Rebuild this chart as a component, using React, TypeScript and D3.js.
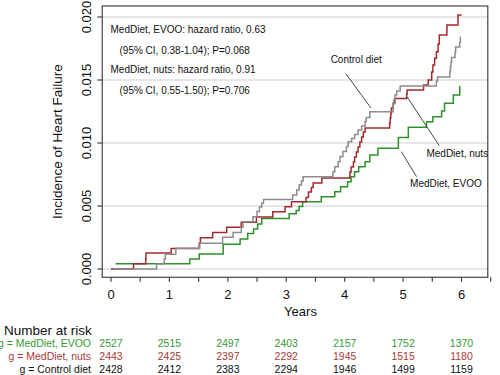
import React from 'react';
import * as d3 from 'd3';

const years = [0, 1, 2, 3, 4, 5, 6];
const minorYears = [0, 0.5, 1, 1.5, 2, 2.5, 3, 3.5, 4, 4.5, 5, 5.5, 6, 6.5];
const yTicks = [0, 0.005, 0.01, 0.015, 0.02];

// Step curves: times (years) and cumulative incidence after each step
const evooT = [0.08, 1.35, 1.51, 1.92, 2.21, 2.34, 2.44, 2.51, 2.58, 3.05, 3.17, 3.22, 3.28, 3.60, 3.83, 3.93, 4.05, 4.11, 4.17, 4.24, 4.35, 4.43, 4.57, 4.92, 5.09, 5.40, 5.51, 5.66, 5.71, 5.86, 5.97];
const evooV = [0.00042, 0.00079, 0.00119, 0.00196, 0.00238, 0.00282, 0.00317, 0.00357, 0.00401, 0.00439, 0.00464, 0.00496, 0.00534, 0.00574, 0.00613, 0.00653, 0.00693, 0.00733, 0.00772, 0.00812, 0.00852, 0.00905, 0.00958, 0.01044, 0.01125, 0.01169, 0.01209, 0.01254, 0.01315, 0.01381, 0.01447];
const evooEnd = 5.98;

const nutsT = [0, 0.385, 0.594, 0.599, 1.03, 1.51, 1.53, 1.74, 1.98, 2.23, 2.49, 2.77, 2.98, 3.09, 3.34, 3.38, 3.43, 3.46, 3.61, 4.09, 4.11, 4.15, 4.17, 4.20, 4.23, 4.26, 4.29, 4.32, 4.35, 4.77, 4.78, 4.79, 4.80, 4.83, 4.86, 5.06, 5.07, 5.35, 5.43, 5.49, 5.51, 5.54, 5.57, 5.60, 5.62, 5.75, 5.94];
const nutsV = [0, 0.00041, 0.00083, 0.00127, 0.00163, 0.00204, 0.00248, 0.0029, 0.00331, 0.00371, 0.00413, 0.00455, 0.00494, 0.00534, 0.00567, 0.00611, 0.00647, 0.00683, 0.00722, 0.0077, 0.0081, 0.00849, 0.00889, 0.00929, 0.00968, 0.01008, 0.01048, 0.01087, 0.01119, 0.01159, 0.01198, 0.01238, 0.01278, 0.01317, 0.01353, 0.01389, 0.01421, 0.0146, 0.015, 0.01563, 0.01619, 0.01672, 0.01725, 0.01786, 0.01857, 0.01937, 0.02016];
const nutsEnd = 6.0;

const controlT = [0.03, 0.78, 0.91, 0.93, 1.11, 1.52, 1.91, 2.09, 2.23, 2.26, 2.43, 2.50, 2.54, 2.58, 2.61, 3.11, 3.18, 3.22, 3.26, 3.29, 3.80, 3.83, 3.89, 3.92, 3.97, 4.03, 4.06, 4.12, 4.17, 4.23, 4.29, 4.35, 4.37, 4.43, 4.83, 4.84, 4.86, 4.89, 4.95, 5.57, 5.59, 5.80, 5.81, 5.82, 5.83, 5.89, 5.90, 5.97, 5.98];
const controlV = [0, 0.0004, 0.00079, 0.00117, 0.00164, 0.00204, 0.00252, 0.0029, 0.00331, 0.00375, 0.00415, 0.00456, 0.00492, 0.00521, 0.00552, 0.00587, 0.00627, 0.00667, 0.00698, 0.00733, 0.00772, 0.00812, 0.00852, 0.00893, 0.00933, 0.00972, 0.0101, 0.01036, 0.01067, 0.01103, 0.01135, 0.01171, 0.01202, 0.01248, 0.01302, 0.01341, 0.01381, 0.01413, 0.01452, 0.01492, 0.01524, 0.01567, 0.01607, 0.01643, 0.01679, 0.01722, 0.01762, 0.01802, 0.01841];
const controlEnd = 5.985;

const riskLabels = ['g = MedDiet, EVOO', 'g = MedDiet, nuts', 'g = Control diet'];
const riskEvoo = [2527, 2515, 2497, 2403, 2157, 1752, 1370];
const riskNuts = [2443, 2425, 2397, 2292, 1945, 1515, 1180];
const riskControl = [2428, 2412, 2383, 2294, 1946, 1499, 1159];

const hrText = [
  'MedDiet, EVOO: hazard ratio, 0.63',
  '(95% CI, 0.38-1.04); P=0.068',
  'MedDiet, nuts: hazard ratio, 0.91',
  '(95% CI, 0.55-1.50); P=0.706',
];

const GREEN = '#2f8f2a';
const RED = '#a3282c';
const GRAY = '#8c8c8c';
const FONT = '"Liberation Sans", Arial, sans-serif';

export default function App() {
  const W = 500, H = 375;
  const x = d3.scaleLinear().domain([0, 6]).range([111, 461.5]);
  const y = d3.scaleLinear().domain([0, 0.02]).range([269, 17]);
  const left = x(-0.15), right = x(6.45), top = 6, bottom = 277.3;

  const line = d3.line<[number, number]>()
    .x(d => x(d[0])).y(d => y(d[1])).curve(d3.curveStepAfter);
  const mk = (t: number[], v: number[], end: number) => {
    const pts: [number, number][] = t.map((ti, i) => [ti, v[i]]);
    pts.push([end, v[v.length - 1]]);
    return line(pts) || '';
  };

  const series = [
    { d: mk(evooT, evooV, evooEnd), c: GREEN },
    { d: mk(nutsT, nutsV, nutsEnd), c: RED },
    { d: mk(controlT, controlV, controlEnd), c: GRAY },
  ];

  const riskRows = [
    { label: riskLabels[0], vals: riskEvoo, c: '#339a33' },
    { label: riskLabels[1], vals: riskNuts, c: '#a83a3a' },
    { label: riskLabels[2], vals: riskControl, c: '#111' },
  ];

  // annotation pointers (data coordinates)
  const pointers = [
    { label: 'Control diet', from: [4.02, 0.01550], to: [4.45, 0.01278], tx: [3.76, 0.01637] },
    { label: 'MedDiet, nuts', from: [5.07, 0.01365], to: [5.62, 0.00979], tx: [5.40, 0.00892] },
    { label: 'MedDiet, EVOO', from: [4.97, 0.00931], to: [5.23, 0.00733], tx: [5.12, 0.00648] },
  ];

  return (
    <svg width={W} height={H} style={{ display: 'block', position: 'absolute', left: 0, top: 0 }} fontFamily={FONT}>
      <rect width={W} height={H} fill="#fff" />
      {/* gridlines */}
      {yTicks.map(t => (
        <line key={t} x1={left} x2={right} y1={y(t)} y2={y(t)} stroke="#dedede" strokeWidth={1.6} />
      ))}
      {/* frame */}
      <rect x={left} y={top} width={right - left} height={bottom - top} fill="none" stroke="#444" strokeWidth={1.2} />
      {/* y ticks */}
      {yTicks.map(t => (
        <g key={t}>
          <line x1={left - 5} x2={left} y1={y(t)} y2={y(t)} stroke="#444" strokeWidth={1.2} />
          <text transform={`translate(91,${y(t)}) rotate(-90)`} textAnchor="middle" fontSize={13} fill="#111">
            {t.toFixed(3)}
          </text>
        </g>
      ))}
      {/* x ticks */}
      {minorYears.map(t => (
        <line key={t} x1={x(t)} x2={x(t)} y1={bottom} y2={bottom + 4.5} stroke="#444" strokeWidth={1.2} />
      ))}
      {years.map(t => (
        <text key={t} x={x(t)} y={299} textAnchor="middle" fontSize={13} fill="#111">{t}</text>
      ))}
      <text x={300.5} y={316} textAnchor="middle" fontSize={13} fill="#111">Years</text>
      <text transform={`translate(61.5,${(top + bottom) / 2}) rotate(-90)`} textAnchor="middle" fontSize={13.5} fill="#111">
        Incidence of Heart Failure
      </text>

      {/* curves */}
      {series.map((s, i) => (
        <path key={i} d={s.d} fill="none" stroke={s.c} strokeWidth={1.5} />
      ))}

      {/* hazard ratio text */}
      {hrText.map((t, i) => (
        <text key={i} x={i % 2 === 0 ? 110.5 : 119.5} y={[32.5, 53.5, 73, 94][i]} fontSize={10} fill="#111">{t}</text>
      ))}

      {/* pointers */}
      {pointers.map((p, i) => (
        <g key={i}>
          <line x1={x(p.from[0])} y1={y(p.from[1])} x2={x(p.to[0])} y2={y(p.to[1])} stroke="#333" strokeWidth={0.9} />
          <text x={x(p.tx[0])} y={y(p.tx[1])} fontSize={10} fill="#111">{p.label}</text>
        </g>
      ))}

      {/* number at risk */}
      <text x={4} y={335} fontSize={13.5} fill="#111">Number at risk</text>
      {riskRows.map((r, i) => (
        <g key={i}>
          <text x={91} y={347 + i * 13} textAnchor="end" fontSize={10.5} fill={r.c}>{r.label}</text>
          {r.vals.map((v, j) => (
            <text key={j} x={x(years[j])} y={347 + i * 13} textAnchor="middle" fontSize={10.5} fill={r.c}>{v}</text>
          ))}
        </g>
      ))}
    </svg>
  );
}
